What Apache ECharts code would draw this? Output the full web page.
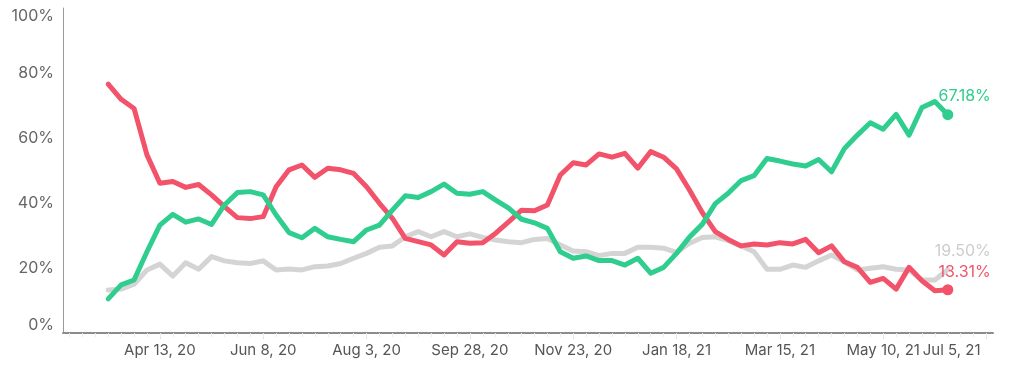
<!DOCTYPE html>
<html><head><meta charset="utf-8">
<script src="https://cdn.jsdelivr.net/npm/echarts@6/dist/echarts.min.js"></script>
<style>html,body{margin:0;padding:0;background:#fff}#chart{width:1012px;height:381px}</style>
</head><body><div id="chart"></div>
<script>
// Weekly categories (Mondays), Feb 24, 2020 .. Jul 5, 2021
const categories = [
 'Feb 24, 20','Mar 2, 20','Mar 9, 20','Mar 16, 20','Mar 23, 20','Mar 30, 20','Apr 6, 20','Apr 13, 20',
 'Apr 20, 20','Apr 27, 20','May 4, 20','May 11, 20','May 18, 20','May 25, 20','Jun 1, 20','Jun 8, 20',
 'Jun 15, 20','Jun 22, 20','Jun 29, 20','Jul 6, 20','Jul 13, 20','Jul 20, 20','Jul 27, 20','Aug 3, 20',
 'Aug 10, 20','Aug 17, 20','Aug 24, 20','Aug 31, 20','Sep 7, 20','Sep 14, 20','Sep 21, 20','Sep 28, 20',
 'Oct 5, 20','Oct 12, 20','Oct 19, 20','Oct 26, 20','Nov 2, 20','Nov 9, 20','Nov 16, 20','Nov 23, 20',
 'Nov 30, 20','Dec 7, 20','Dec 14, 20','Dec 21, 20','Dec 28, 20','Jan 4, 21','Jan 11, 21','Jan 18, 21',
 'Jan 25, 21','Feb 1, 21','Feb 8, 21','Feb 15, 21','Feb 22, 21','Mar 1, 21','Mar 8, 21','Mar 15, 21',
 'Mar 22, 21','Mar 29, 21','Apr 5, 21','Apr 12, 21','Apr 19, 21','Apr 26, 21','May 3, 21','May 10, 21',
 'May 17, 21','May 24, 21','May 31, 21','Jun 7, 21','Jun 14, 21','Jun 21, 21','Jun 28, 21','Jul 5, 21'
];
const xTickLabels = ['Apr 13, 20','Jun 8, 20','Aug 3, 20','Sep 28, 20','Nov 23, 20','Jan 18, 21','Mar 15, 21','May 10, 21','Jul 5, 21'];

const redValues = [null,null,null,
 76.6,71.9,69.1,54.8,46.1,46.6,44.8,45.7,42.5,38.9,35.5,35.2,35.8,45.0,50.2,51.7,47.9,50.7,50.2,49.1,
 45.0,39.9,35.3,29.1,28.1,27.1,24.0,28.1,27.6,27.8,30.7,34.2,37.8,37.6,39.4,48.6,52.4,51.7,55.1,54.1,
 55.3,50.7,55.8,54.1,50.5,44.0,37.0,31.2,28.8,26.8,27.4,27.1,27.8,27.4,28.8,24.7,26.8,21.9,20.2,15.6,
 16.8,13.5,20.2,16.1,13.0,13.31,
 null,null,null];
const greenValues = [null,null,null,
 10.5,14.8,16.3,25.0,33.2,36.5,34.1,35.1,33.4,39.4,43.2,43.5,42.5,36.3,30.9,29.3,32.2,29.6,28.8,28.1,
 31.7,33.2,37.8,42.2,41.7,43.5,45.8,43.0,42.7,43.5,40.9,38.4,35.0,33.9,32.2,25.0,23.0,23.7,22.3,22.3,
 20.9,23.0,18.4,20.2,24.5,29.5,33.5,39.8,43.0,46.9,48.4,53.7,52.9,52.0,51.4,53.4,49.6,56.8,60.9,64.7,
 62.7,67.3,60.9,69.4,71.2,67.18,
 null,null,null];
const grayValues = [null,null,null,
 13.2,13.5,15.0,19.4,21.2,17.5,21.6,19.6,23.5,22.2,21.6,21.4,22.2,19.4,19.7,19.4,20.4,20.6,21.4,23.0,
 24.5,26.4,26.8,29.6,31.2,29.6,31.2,29.6,30.5,29.4,28.6,28.1,27.8,28.8,29.1,27.1,25.2,25.0,23.8,24.5,
 24.5,26.4,26.4,26.1,24.8,27.6,29.4,29.6,28.4,26.8,25.0,19.6,19.6,20.9,20.2,22.2,24.0,21.9,19.4,19.9,
 20.4,19.6,19.4,16.3,16.3,19.5,
 null,null,null];

const FONT = 'Inter, "Noto Sans", sans-serif';
const RED = '#F3536A', GREEN = '#2FCD8E', GRAY = '#D4D4D4', GRAY_LABEL = '#CDCDCD';
const labelled = new Set(xTickLabels);
const isLabelled = (i, v) => labelled.has(v);

function buildData(values, labelColor, dotSize) {
  let last = -1;
  values.forEach((v, i) => { if (v != null) last = i; });
  return values.map((v, i) => i !== last ? v : {
    value: v,
    symbolSize: dotSize,
    label: {
      show: true, position: 'inside', align: 'right', verticalAlign: 'middle',
      offset: [43, -18], color: labelColor, fontSize: 16, fontFamily: FONT,
      formatter: p => Number(p.value).toFixed(2) + '%'
    }
  });
}
function lineSeries(name, values, color, labelColor, dotSize, z) {
  return {
    name, type: 'line', xAxisIndex: 0, yAxisIndex: 0,
    data: buildData(values, labelColor, dotSize),
    symbol: 'circle', symbolSize: 0, showSymbol: true, showAllSymbol: true,
    lineStyle: { color, width: 5, cap: 'round', join: 'round' },
    itemStyle: { color },
    z, silent: true, animation: false
  };
}

const chart = echarts.init(document.getElementById('chart'), null, { renderer: 'canvas' });
chart.setOption({
  animation: false,
  backgroundColor: '#ffffff',
  grid: { left: 63, right: 19, top: 8, bottom: 48, containLabel: false },
  xAxis: [{
    type: 'category', data: categories, boundaryGap: true, position: 'bottom',
    axisLine: { show: true, lineStyle: { color: '#8c8c8c', width: 2 } },
    axisTick: { show: true, alignWithLabel: true, interval: isLabelled, length: 6, lineStyle: { color: '#dedede' } },
    axisLabel: {
      interval: isLabelled, color: '#555', fontSize: 15, fontFamily: FONT, margin: 10,
      alignMaxLabel: 'right',
      formatter: (v, i) => i === categories.length - 1 ? '{e|' + v + '}' : v,
      rich: { e: { padding: [0, 6, 0, 0], color: '#555', fontSize: 15, fontFamily: FONT } }
    },
    splitLine: { show: false }
  }, {
    type: 'category', data: categories, boundaryGap: true, position: 'bottom',
    axisLine: { show: false },
    axisTick: { show: true, alignWithLabel: true, interval: 0, length: 4, lineStyle: { color: '#ececec' } },
    axisLabel: { show: false },
    splitLine: { show: false }
  }],
  yAxis: {
    type: 'value', min: 0, max: 100, interval: 20,
    axisLine: { show: true, lineStyle: { color: '#9a9a9a', width: 1 } },
    axisTick: { show: false },
    splitLine: { show: false },
    axisLabel: {
      formatter: '{value}%', color: '#666', fontSize: 16, fontFamily: FONT, margin: 9,
      verticalAlignMinLabel: 'bottom', verticalAlignMaxLabel: 'top'
    }
  },
  series: [
    lineSeries('Gray', grayValues, GRAY, GRAY_LABEL, 0, 1),
    lineSeries('Red', redValues, RED, RED, 11, 2),
    lineSeries('Green', greenValues, GREEN, GREEN, 11, 3)
  ]
});
</script>
</body></html>
